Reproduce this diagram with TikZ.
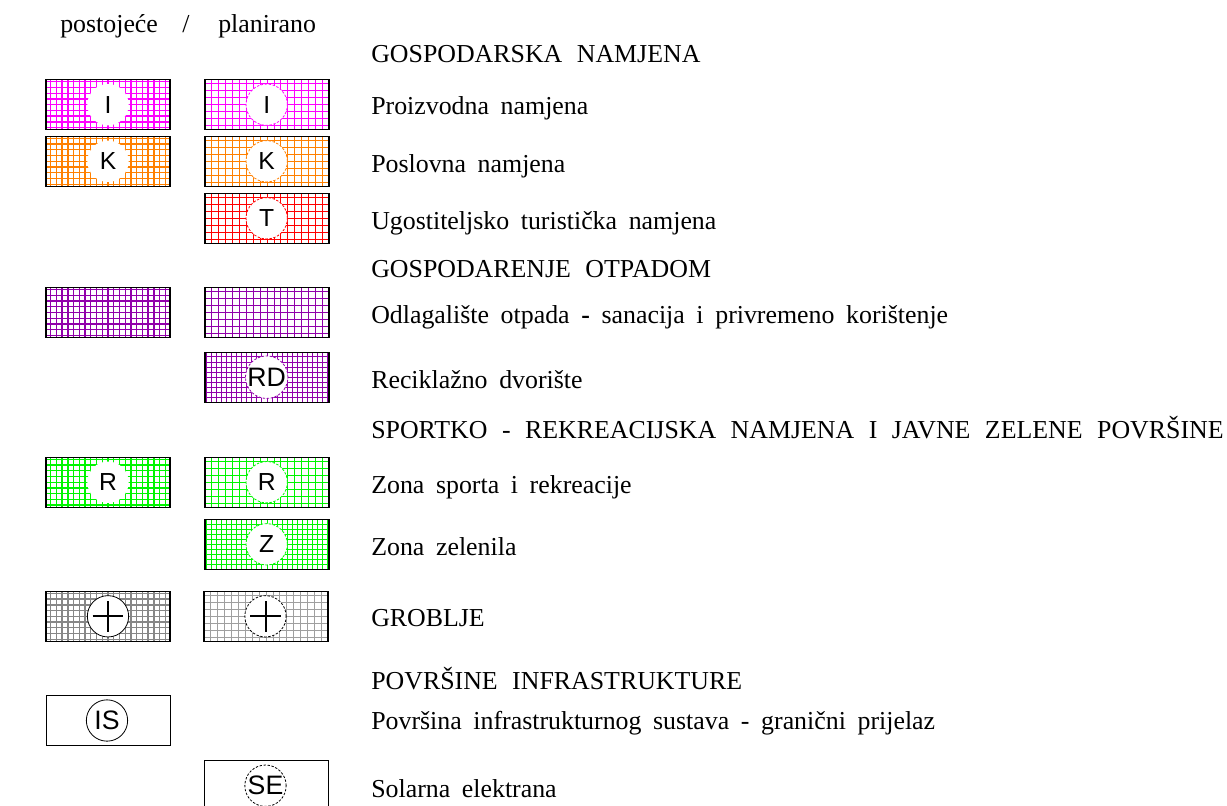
\documentclass[tikz,border=0pt]{standalone}
\usepackage{fontspec}
\setmainfont{Liberation Serif}
\newfontfamily\lsans{Liberation Sans}
\definecolor{cI}{RGB}{255,0,255}
\definecolor{cK}{RGB}{255,128,0}
\definecolor{cT}{RGB}{255,0,0}
\definecolor{cO}{RGB}{145,0,170}
\definecolor{cR}{RGB}{0,245,0}
\definecolor{cG}{RGB}{135,135,135}
\newcommand\lblfont{\fontsize{19.4pt}{22pt}\selectfont\spaceskip=0.45em plus 0.1em\relax}
\newcommand\hdrfont{\fontsize{19.4pt}{22pt}\selectfont\spaceskip=0.56em plus 0.1em\relax}
\tikzset{
  legbox/.style={rectangle, draw=black, line width=0.9pt, inner sep=0pt,
    minimum width=93pt, minimum height=37.5pt},
  plainbox/.style={legbox, draw=black, line width=0.7pt},
  gridA/.style={path picture={
    \draw[#1!60, line width=0.9pt, step=4.3pt, shift={(2pt,2pt)}] (path picture bounding box.south west) grid (path picture bounding box.north east);
    \draw[#1, line width=1.0pt, step=4.3pt] (path picture bounding box.south west) grid (path picture bounding box.north east);}},
  gridB/.style={path picture={
    \draw[#1, line width=0.65pt, step=5.2pt] (path picture bounding box.south west) grid (path picture bounding box.north east);}},
  gridC/.style={path picture={
    \draw[#1, line width=0.7pt, step=3.8pt] (path picture bounding box.south west) grid (path picture bounding box.north east);}},
  circ/.style={circle, fill=white, inner sep=0pt, minimum size=31pt,
    font=\lsans\fontsize{18.5pt}{18.5pt}\selectfont},
  circbig/.style={circ, font=\lsans\fontsize{20pt}{20pt}\selectfont},
  dcirc/.style={draw=#1, line width=0.6pt, dash pattern=on 1.8pt off 1.2pt},
  scirc/.style={draw=#1, line width=0.6pt},
  lbl/.style={anchor=base west, inner sep=0pt, font=\lblfont},
  hdr/.style={anchor=base west, inner sep=0pt, font=\hdrfont},
  crossline/.style={line width=1.5pt}
}
\begin{document}
\begin{tikzpicture}[x=0.75pt,y=-0.75pt]
\useasboundingbox (0,0) rectangle (1227,806);
\clip (0,0) rectangle (1227,806);
% header
\node[lbl] (hpost) at (60,33) {postojeće};
\node[lbl, anchor=base] (hslash) at (186,33) {/};
\node[lbl] (hplan) at (218,33) {planirano};
% labels
\node[hdr] (t1) at (371,63) {GOSPODARSKA  NAMJENA};
\node[lbl] (t2) at (371,115) {Proizvodna  namjena};
\node[lbl] (t3) at (371,172) {Poslovna  namjena};
\node[lbl] (t4) at (371,229) {Ugostiteljsko  turistička  namjena};
\node[hdr] (t5) at (371,277) {GOSPODARENJE  OTPADOM};
\node[lbl] (t6) at (371,323) {Odlagalište  otpada  \textbf{-}  sanacija  i  privremeno  korištenje};
\node[lbl] (t7) at (371,388) {Reciklažno  dvorište};
\node[hdr] (t8) at (371,438.5) {SPORTKO  -  REKREACIJSKA  NAMJENA  I  JAVNE  ZELENE  POVRŠINE};
\node[lbl] (t9) at (371,493) {Zona  sporta  i  rekreacije};
\node[lbl] (t10) at (371,555) {Zona  zelenila};
\node[hdr] (t11) at (371,626) {GROBLJE};
\node[hdr] (t12) at (371,689) {POVRŠINE  INFRASTRUKTURE};
\node[lbl] (t13) at (371,729) {Površina  infrastrukturnog  sustava  -  granični  prijelaz};
\node[lbl] (t14) at (371,797) {Solarna  elektrana};
% I
\node[legbox, gridA=cI] (bIL) at (108,104.7) {};
\node[circ] (cIL) at (108,104.7) {I};
\node[legbox, gridB=cI] (bIR) at (267,104.7) {};
\node[circ, dcirc=cI] (cIR) at (266.7,104.7) {I};
% K
\node[legbox, gridA=cK] (bKL) at (108,161.3) {};
\node[circ] (cKL) at (108,161.3) {K};
\node[legbox, gridB=cK] (bKR) at (267,161.3) {};
\node[circ, dcirc=cK] (cKR) at (266.7,161.3) {K};
% T
\node[legbox, gridB=cT] (bTR) at (267,218.3) {};
\node[circ, dcirc=cT] (cTR) at (266.7,218.3) {T};
% Odlagaliste
\node[legbox, gridA=cO] (bOL) at (108,312.5) {};
\node[legbox, gridB=cO] (bOR) at (267,312.5) {};
% RD
\node[legbox, gridC=cO] (bRDR) at (267,377.2) {};
\node[circbig, dcirc=cO] (cRDR) at (266.7,377.2) {RD};
% R
\node[legbox, gridA=cR] (bRL) at (108,482.2) {};
\node[circ] (cRL) at (108,482.2) {R};
\node[legbox, gridB=cR] (bRR) at (267,482.2) {};
\node[circ, dcirc=cR] (cRR) at (266.7,482.2) {R};
% Z
\node[legbox, gridC=cR] (bZR) at (267,544.3) {};
\node[circ, dcirc=cR] (cZR) at (266.7,544.3) {Z};
% Groblje
\node[legbox, gridA=cG] (bGL) at (108,616.3) {};
\node[circ, scirc=black] (cGL) at (108,616.3) {};
\draw[crossline] ([xshift=-11.5pt]cGL.center) -- ([xshift=11.5pt]cGL.center);
\draw[crossline] ([yshift=-11.5pt]cGL.center) -- ([yshift=11.5pt]cGL.center);
\node[legbox, gridB=cG!80] (bGR) at (266,616.3) {};
\node[circ, dcirc=black] (cGR) at (265.5,616.3) {};
\draw[crossline] ([xshift=-11.5pt]cGR.center) -- ([xshift=11.5pt]cGR.center);
\draw[crossline] ([yshift=-11.5pt]cGR.center) -- ([yshift=11.5pt]cGR.center);
% IS
\node[plainbox] (bISL) at (108,720.5) {};
\node[circbig, scirc=black] (cISL) at (107,720.5) {IS};
% SE
\node[plainbox] (bSER) at (266,785.7) {};
\node[circbig, dcirc=black] (cSER) at (265.5,785.7) {SE};
\end{tikzpicture}
\end{document}
